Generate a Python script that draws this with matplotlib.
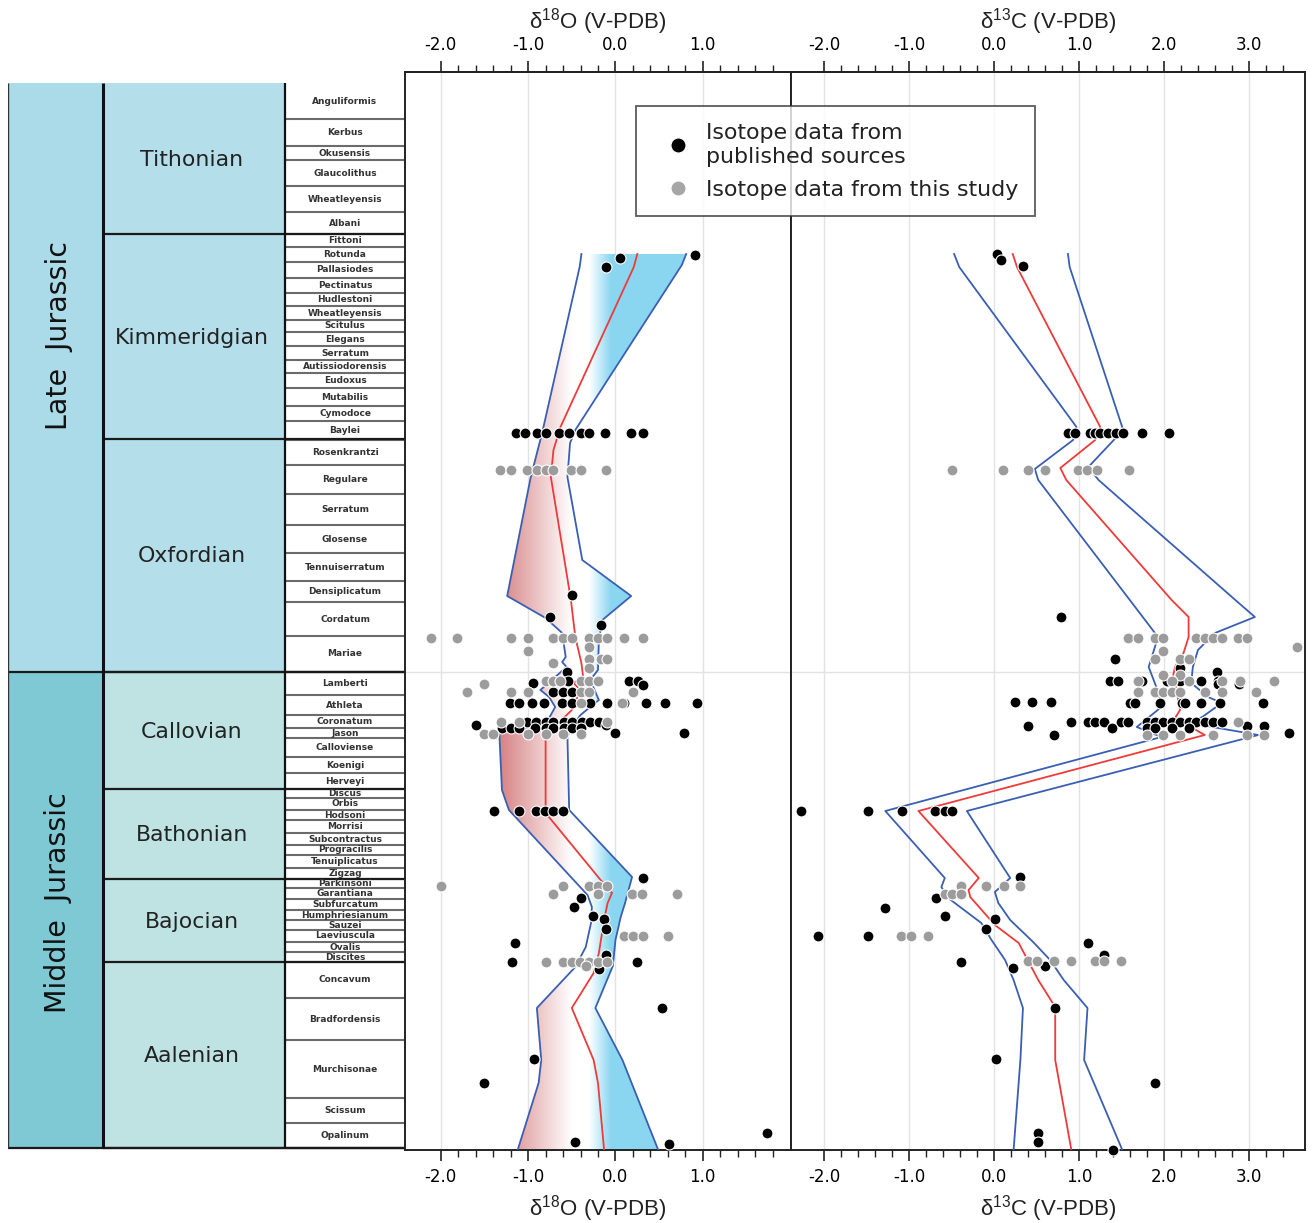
import numpy as np
import matplotlib.pyplot as plt
from matplotlib.patches import Rectangle, Polygon
from matplotlib.lines import Line2D
from matplotlib.ticker import FixedLocator

plt.rcParams['font.family'] = ['DejaVu Sans']

# ---------------- stratigraphy (relative column units, top of column = 83) -------------
col_top = 83
series_names = ['Late  Jurassic', 'Middle  Jurassic']
series_base = [672, 1148]
stage_names = ['Tithonian', 'Kimmeridgian', 'Oxfordian', 'Callovian',
               'Bathonian', 'Bajocian', 'Aalenian']
stage_base = [234, 439, 672, 789, 879, 962, 1148]
zone_names = ['Anguliformis', 'Kerbus', 'Okusensis', 'Glaucolithus', 'Wheatleyensis',
              'Albani', 'Fittoni', 'Rotunda', 'Pallasiodes', 'Pectinatus', 'Hudlestoni',
              'Wheatleyensis', 'Scitulus', 'Elegans', 'Serratum', 'Autissiodorensis',
              'Eudoxus', 'Mutabilis', 'Cymodoce', 'Baylei', 'Rosenkrantzi', 'Regulare',
              'Serratum', 'Glosense', 'Tennuiserratum', 'Densiplicatum', 'Cordatum',
              'Mariae', 'Lamberti', 'Athleta', 'Coronatum', 'Jason', 'Calloviense',
              'Koenigi', 'Herveyi', 'Discus', 'Orbis', 'Hodsoni', 'Morrisi',
              'Subcontractus', 'Progracilis', 'Tenuiplicatus', 'Zigzag', 'Parkinsoni',
              'Garantiana', 'Subfurcatum', 'Humphriesianum', 'Sauzei', 'Laeviuscula',
              'Ovalis', 'Discites', 'Concavum', 'Bradfordensis', 'Murchisonae',
              'Scissum', 'Opalinum']
zone_base = [119, 146, 160, 186, 212, 234, 247, 262, 278, 293, 306, 320, 332, 346, 360,
             373, 388, 406, 421, 440, 465, 494, 525, 553, 581, 602, 636, 672, 695, 715,
             728, 738, 757, 773, 789, 798, 810, 820, 833, 845, 855, 868, 879, 888, 899,
             910, 920, 930, 942, 952, 962, 998, 1040, 1098, 1123, 1148]

# ---------------- d18O envelope: (position, value) -------------------------------------
d18o_lo = [(254, -0.39), (267, -0.41), (433, -0.84), (477, -0.97), (596, -1.24),
           (618, -0.80), (633, -0.61), (657, -0.57), (662, -0.61), (667, -0.56),
           (690, -0.86), (697, -0.76), (707, -0.69), (718, -0.76), (727, -0.99),
           (733, -1.33), (790, -1.30), (810, -1.22), (895, -0.32), (907, -0.27),
           (923, -0.28), (947, -0.34), (967, -0.46), (1008, -0.90), (1060, -0.85),
           (1083, -0.88), (1150, -1.12)]
d18o_mean = [(254, 0.25), (267, 0.21), (427, -0.63), (450, -0.71), (477, -0.74),
             (600, -0.51), (637, -0.46), (663, -0.39), (677, -0.37), (683, -0.48),
             (690, -0.40), (710, -0.50), (716, -0.57), (722, -0.65), (733, -0.80),
             (813, -0.80), (880, -0.17), (893, -0.04), (903, -0.09), (920, -0.13),
             (953, -0.19), (973, -0.25), (1008, -0.50), (1060, -0.25), (1083, -0.20),
             (1150, -0.13)]
d18o_hi = [(254, 0.81), (265, 0.76), (430, -0.46), (443, -0.52), (477, -0.55),
           (560, -0.38), (596, 0.18), (620, -0.15), (640, -0.19), (670, -0.20),
           (680, -0.29), (700, -0.19), (707, -0.29), (715, -0.40), (727, -0.50),
           (737, -0.55), (810, -0.53), (877, 0.19), (903, 0.11), (917, 0.06),
           (940, 0.00), (966, -0.03), (1008, -0.23), (1060, 0.08), (1150, 0.49)]

# ---------------- d13C envelope --------------------------------------------------------
d13c_lo = [(254, -0.47), (267, -0.41), (427, 0.97), (440, 0.93), (469, 0.48), (480, 0.52),
           (637, 1.93), (667, 1.82), (687, 1.91), (707, 1.97), (727, 1.68), (737, 1.97),
           (811, -1.28), (878, -0.58), (887, -0.62), (898, -0.54), (923, -0.15),
           (940, -0.03), (960, 0.13), (980, 0.23), (1008, 0.34), (1060, 0.31), (1150, 0.23)]
d13c_mean = [(254, 0.22), (267, 0.27), (427, 1.25), (440, 1.19), (468, 0.78), (480, 0.85),
             (600, 2.09), (617, 2.29), (637, 2.29), (653, 2.23), (667, 2.13), (675, 2.11),
             (710, 2.19), (718, 2.13), (735, 2.48), (811, -0.89), (878, -0.18),
             (890, -0.30), (897, -0.28), (925, 0.01), (943, 0.29), (980, 0.52),
             (1007, 0.72), (1060, 0.72), (1150, 0.91)]
d13c_hi = [(254, 0.87), (267, 0.89), (430, 1.52), (467, 1.11), (480, 1.23), (600, 2.84),
           (617, 3.07), (633, 2.60), (650, 2.40), (667, 2.34), (683, 2.32), (697, 2.52),
           (703, 2.68), (717, 2.45), (723, 2.30), (735, 3.11), (811, -0.32), (878, 0.19),
           (892, 0.01), (903, 0.05), (920, 0.19), (942, 0.46), (960, 0.66), (980, 0.82),
           (1008, 1.10), (1060, 1.06), (1150, 1.51)]

# ---------------- isotope data: (position, [values]) -----------------------------------
d18o_published = [
    (255, [0.91]), (258, [0.05]), (267, [-0.11]),
    (433, [-1.14, -1.04, -0.90, -0.80, -0.65, -0.53, -0.40, -0.30, -0.12, 0.18, 0.31]),
    (595, [-0.50]), (617, [-0.75]), (625, [-0.16]),
    (672, [-0.55]), (681, [-0.54, 0.15, 0.26]), (683, [-0.95]), (685, [0.32]),
    (692, [-0.71, -0.60, -0.50]),
    (703, [-1.21, -1.11, -0.96, -0.82, -0.61, -0.50, -0.29, -0.10, 0.10, 0.35, 0.57, 0.93]),
    (722, [-1.01, -0.91, -0.80, -0.71, -0.59, -0.50, -0.38, -0.29, -0.19]),
    (725, [-1.60, -0.11]),
    (728, [-1.30, -1.20, -1.11, -0.92, -0.80, -0.71, -0.59, -0.50, -0.40]),
    (733, [0.00, 0.79]),
    (811, [-1.39, -1.10, -0.91, -0.81, -0.71, -0.60]),
    (878, [0.32]), (898, [-0.39]), (907, [-0.48]), (916, [-0.26]), (919, [-0.13]),
    (929, [-0.11]), (943, [-1.15]), (955, [-0.11]), (962, [-1.19, 0.25]), (969, [-0.19]),
    (1008, [0.53]), (1059, [-0.93]), (1083, [-1.51]), (1133, [1.73]), (1142, [-0.46]),
    (1144, [0.61])]
d18o_this_study = [
    (470, [-1.32, -1.20, -1.01, -0.90, -0.80, -0.71, -0.51, -0.40, -0.11]),
    (638, [-2.11, -1.81, -1.20, -1.00, -0.71, -0.60, -0.50, -0.30, -0.20, -0.10, 0.10, 0.31]),
    (647, [-0.30]), (651, [-1.00]), (659, [-0.30, -0.17, -0.10]), (663, [-0.71]),
    (668, [-0.30]),
    (681, [-0.80, -0.71, -0.63, -0.39, -0.30, -0.20]), (684, [-1.50]),
    (692, [-1.70, -1.20, -1.00, -0.39, -0.30, 0.20]),
    (703, [-0.40, 0.08]), (722, [-1.31, -1.10, -0.10]),
    (734, [-1.51, -1.40, -1.00, -0.80, -0.60, -0.40]),
    (886, [-2.00, -0.60, -0.30, -0.20, -0.10]),
    (894, [-0.71, -0.20, 0.19, 0.30, 0.70]),
    (936, [0.10, 0.20, 0.31, 0.60]),
    (962, [-0.80, -0.60, -0.50, -0.41, -0.30, -0.20, -0.10]), (966, [-0.34])]

d13c_published = [
    (254, [0.04]), (260, [0.08]), (266, [0.34]),
    (433, [0.87, 0.95, 1.13, 1.19, 1.25, 1.34, 1.44, 1.52, 1.74, 2.06]),
    (617, [0.79]), (659, [1.42]), (668, [2.19]), (672, [2.62]),
    (681, [1.36, 1.46, 1.74, 2.03, 2.19, 2.44, 2.64]), (684, [2.64, 2.88]),
    (702, [0.25, 0.45, 0.67]),
    (703, [1.60, 1.66, 1.95, 2.21, 2.25, 2.44, 2.66, 3.17]),
    (722, [0.91, 1.10, 1.19, 1.29, 1.50, 1.58, 1.80, 1.89, 1.99, 2.09, 2.19, 2.29,
           2.38, 2.48, 2.58, 2.68]),
    (726, [0.40, 2.98, 3.18]), (728, [1.39, 1.80, 1.89, 2.09, 2.29]),
    (733, [3.47]), (735, [0.70]),
    (811, [-2.27, -1.48, -1.08, -0.69, -0.58, -0.49]),
    (877, [0.31]), (898, [-0.68]), (908, [-1.28]), (916, [-0.58]), (919, [0.01]),
    (929, [-0.09]), (936, [-2.07, -1.48]), (943, [1.10]), (955, [1.30]), (962, [-0.39]),
    (966, [0.60]), (968, [0.22]),
    (1008, [0.72]), (1059, [0.02]), (1083, [1.90]), (1133, [0.52]), (1142, [0.52]),
    (1150, [1.40])]
d13c_this_study = [
    (470, [-0.49, 0.11, 0.40, 0.60, 0.99, 1.09, 1.21, 1.59]),
    (638, [1.58, 1.69, 1.89, 1.99, 2.38, 2.48, 2.58, 2.68, 2.87, 2.98]),
    (647, [3.57]), (651, [1.99]), (659, [1.89, 2.19, 2.29]), (675, [1.99, 2.19]),
    (681, [1.70, 2.09, 2.29, 2.68, 2.89, 3.29]),
    (692, [1.70, 1.89, 1.99, 2.09, 2.19, 2.48, 2.68, 3.08]),
    (722, [2.87]), (735, [1.80, 1.99, 2.19, 2.58, 2.98, 3.18]),
    (886, [-0.39, -0.09, 0.12, 0.31]), (894, [-0.58, -0.49, -0.39]),
    (936, [-1.09, -0.98, -0.78]),
    (961, [0.40, 0.51, 0.70, 0.91, 1.19, 1.30, 1.49])]

d18o_ticks = [-2.0, -1.0, 0.0, 1.0]
d13c_ticks = [-2.0, -1.0, 0.0, 1.0, 2.0, 3.0]
legend_labels = ['Isotope data from\npublished sources', 'Isotope data from this study']


def expand(rows):
    ys, xs = [], []
    for y, vals in rows:
        for v in vals:
            ys.append(y)
            xs.append(v)
    return np.array(xs), np.array(ys)


def line_xy(pts):
    a = np.array(pts, dtype=float)
    return a[:, 1], a[:, 0]


W, H = 1312, 1223
fig = plt.figure(figsize=(W / 100, H / 100), dpi=100)


def frac(x0, y0, x1, y1):
    return [x0 / W, 1 - y1 / H, (x1 - x0) / W, (y1 - y0) / H]


y_top, y_bot = 72, 1150
blue_line = '#3a5fb2'
red_line = '#ef3a3a'
pub_col = 'black'
new_col = '#9c9c9c'

# ---------------- stratigraphic column --------------------------------------------------
axc = fig.add_axes(frac(8, y_top, 405, y_bot))
axc.set_xlim(0, 397)
axc.set_ylim(y_bot, y_top)
axc.axis('off')

x_ser, x_stg, x_zon, x_end = 0, 95, 277, 397
series_fc = ['#abdbe8', '#7fc9d4']
stage_fc = ['#b4dfea'] * 3 + ['#bfe3e3'] * 4
series_label_y = [336, 903]

tops = [col_top] + series_base[:-1]
for name, t, b, fc, ly in zip(series_names, tops, series_base, series_fc, series_label_y):
    axc.add_patch(Rectangle((x_ser, t), x_stg - x_ser, b - t, fc=fc, ec='none'))
    axc.text((x_ser + x_stg) / 2 + 3, ly, name, rotation=90, ha='center', va='center',
             fontsize=20.5, color='#111')

tops = [col_top] + stage_base[:-1]
for name, t, b, fc in zip(stage_names, tops, stage_base, stage_fc):
    axc.add_patch(Rectangle((x_stg, t), x_zon - x_stg, b - t, fc=fc, ec='none'))
    axc.text((x_stg + x_zon) / 2 - 2, (t + b) / 2 + 1, name, ha='center', va='center',
             fontsize=15.8, color='#222')

tops = [col_top] + zone_base[:-1]
for name, t, b in zip(zone_names, tops, zone_base):
    axc.add_patch(Rectangle((x_zon, t), x_end - x_zon, b - t, fc='white', ec='none'))
    axc.hlines(b, x_zon, x_end, color='#6b6b6b', lw=1.5)
    axc.text((x_zon + x_end) / 2, (t + b) / 2, name, ha='center', va='center',
             fontsize=6.5, fontweight='bold', color='#333')

axc.hlines(stage_base, x_stg, x_end, color='#1a1a1a', lw=1.6)
axc.hlines(series_base, x_ser, x_end, color='#1a1a1a', lw=1.6)
axc.vlines(x_stg, col_top, series_base[-1], color='#111', lw=2.2)
axc.vlines(x_zon, col_top, series_base[-1], color='#111', lw=1.6)
axc.vlines(x_ser, col_top, series_base[-1], color='#333', lw=1.0)

# ---------------- isotope panels ---------------------------------------------------------
ax1 = fig.add_axes(frac(405, y_top, 791, y_bot))
ax2 = fig.add_axes(frac(791, y_top, 1305, y_bot))

# gradient fill of the d18O envelope
red_rgb = np.array([216, 134, 136]) / 255
white_rgb = np.array([1.0, 1.0, 1.0])
blue_rgb = np.array([138, 214, 241]) / 255
stops = [-2.5, -1.3, -0.5, -0.3, -0.05, 2.1]
stop_cols = np.array([red_rgb, red_rgb, white_rgb, white_rgb, blue_rgb, blue_rgb])
gx = np.linspace(-2.41, 2.01, 800)
grad = np.stack([np.interp(gx, stops, stop_cols[:, k]) for k in range(3)], axis=-1)
im = ax1.imshow(grad[None, :, :], extent=(-2.41, 2.01, y_bot, y_top), aspect='auto',
                interpolation='bilinear', zorder=1)
lo_x, lo_y = line_xy(d18o_lo)
hi_x, hi_y = line_xy(d18o_hi)
env = Polygon(np.column_stack([np.r_[lo_x, hi_x[::-1]], np.r_[lo_y, hi_y[::-1]]]),
              closed=True, fc='none', ec='none')
ax1.add_patch(env)
im.set_clip_path(env)

panels = [
    (ax1, (-2.41, 2.01), d18o_ticks, np.arange(-2.0, 1.81, 0.2), d18o_lo, d18o_mean,
     d18o_hi, d18o_published, d18o_this_study, '18O'),
    (ax2, (-2.39, 3.66), d13c_ticks, np.arange(-2.0, 3.41, 0.2), d13c_lo, d13c_mean,
     d13c_hi, d13c_published, d13c_this_study, '13C'),
]

for ax, xl, ticks, minors, lo, mean, hi, pub, new, iso in panels:
    for t in ticks:
        ax.axvline(t, color='#e2e2e2', lw=1.0, zorder=0.5)
    ax.axhline(series_base[0], color='#e2e2e2', lw=1.0, zorder=0.5)

    for pts, c in [(lo, blue_line), (hi, blue_line), (mean, red_line)]:
        x, y = line_xy(pts)
        ax.plot(x, y, color=c, lw=1.3, zorder=3)

    x, y = expand(pub)
    ax.scatter(x, y, s=62, color=pub_col, edgecolors='white', linewidths=0.8, zorder=4,
               clip_on=False)
    x, y = expand(new)
    ax.scatter(x, y, s=62, color=new_col, edgecolors='white', linewidths=0.8, zorder=5,
               clip_on=False)

    ax.set_xlim(*xl)
    ax.set_ylim(y_bot, y_top)
    ax.set_yticks([])
    lab = 'δ$^{\\mathregular{%s}}$%s (V-PDB)' % (iso[:2], iso[2:])
    for a, lp in [(ax, 5), (ax.secondary_xaxis('top'), 5)]:
        a.set_xticks(ticks)
        a.set_xticklabels(['%.1f' % t for t in ticks])
        a.xaxis.set_minor_locator(FixedLocator(minors))
        a.tick_params(axis='x', which='major', direction='out', length=8, width=1.2,
                      labelsize=12, pad=5, color='#222')
        a.tick_params(axis='x', which='minor', direction='out', length=5, width=1.0,
                      color='#222')
        a.set_xlabel(lab, fontsize=16, family='Liberation Sans', labelpad=lp,
                     color='#222')
        for sp in a.spines.values():
            sp.set_color('#222')
            sp.set_linewidth(1.4)
    for sp in ax.spines.values():
        sp.set_color('#222')
        sp.set_linewidth(1.4)

# ---------------- legend -----------------------------------------------------------------
handles = [Line2D([], [], marker='o', ls='none', mfc=pub_col, mec='white', ms=11),
           Line2D([], [], marker='o', ls='none', mfc='#a6a6a6', mec='white', ms=11)]
leg = fig.legend(handles, legend_labels, loc='upper left',
                 bbox_to_anchor=(636 / W, 1 - 106 / H), frameon=True, fancybox=False,
                 edgecolor='#333', fontsize=15.9, handlelength=2.3, handletextpad=0.1,
                 borderpad=0.75, labelspacing=0.55, borderaxespad=0)
leg.get_frame().set_linewidth(1.3)
for txt in leg.get_texts():
    txt.set_color('#222')
    txt.set_linespacing(1.3)

fig.savefig('out.png', dpi=100)
